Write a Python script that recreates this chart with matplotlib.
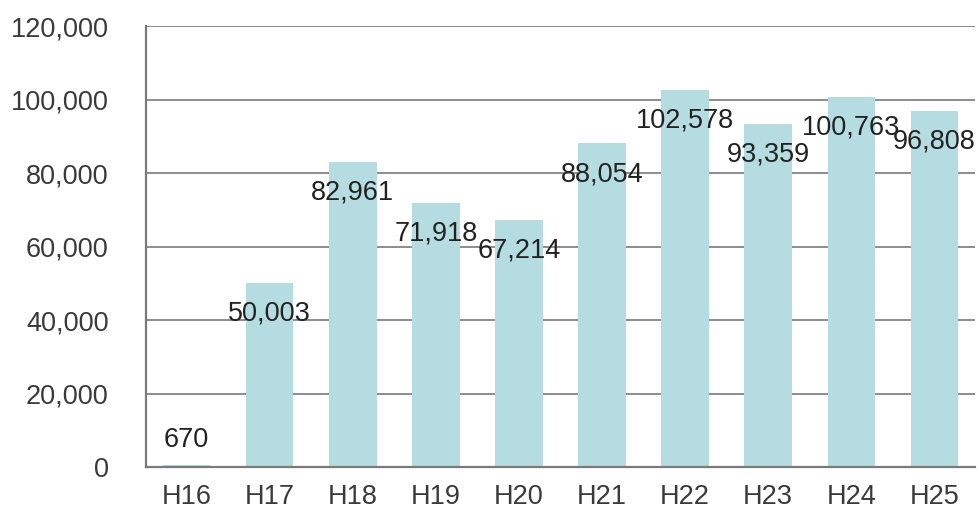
import matplotlib
matplotlib.use("Agg")
import matplotlib.pyplot as plt
from matplotlib.ticker import FuncFormatter

# Yearly totals (Heisei era, H16–H25)
years = ["H16", "H17", "H18", "H19", "H20", "H21", "H22", "H23", "H24", "H25"]
values = [670, 50003, 82961, 71918, 67214, 88054, 102578, 93359, 100763, 96808]
y_ticks = [0, 20000, 40000, 60000, 80000, 100000, 120000]

plt.rcParams["font.family"] = ["Liberation Sans", "DejaVu Sans"]

fig = plt.figure(figsize=(9.78, 5.11), dpi=100)
ax = fig.add_axes([0.1493, 0.0861, 0.8476, 0.8629])

bar_color = "#b5dde1"
grid_color = "#8c8c8c"
spine_color = "#7a7a7a"

x = list(range(len(years)))
bars = ax.bar(x, values, width=0.57, color=bar_color, zorder=2)

ax.set_xlim(-0.49, len(years) - 0.51)
ax.set_ylim(0, 120000)
ax.set_yticks(y_ticks)
ax.yaxis.set_major_formatter(FuncFormatter(lambda v, _: f"{int(v):,}"))
ax.set_xticks(x)
ax.set_xticklabels(years)

# horizontal gridlines behind the bars
for t in y_ticks[1:]:
    ax.axhline(t, color=grid_color, lw=1.4, zorder=1)

for side in ("top", "right"):
    ax.spines[side].set_visible(False)
for side in ("left", "bottom"):
    ax.spines[side].set_color(spine_color)
    ax.spines[side].set_linewidth(1.6)
    ax.spines[side].set_zorder(3)

ax.tick_params(axis="both", length=0, labelsize=19.5, colors="#3a3a3a")
ax.tick_params(axis="y", pad=27)
ax.tick_params(axis="x", pad=12)

# value labels just below each bar top (above the bar when it is too short)
for xi, v in zip(x, values):
    inside = v > 20000
    dy = -22 if inside else 18
    ax.annotate(f"{v:,}", xy=(xi, v), xytext=(0, dy), textcoords="offset points",
                ha="center", va="center", fontsize=19.5, color="#222222", zorder=4)

fig.savefig("out.png", dpi=100)
